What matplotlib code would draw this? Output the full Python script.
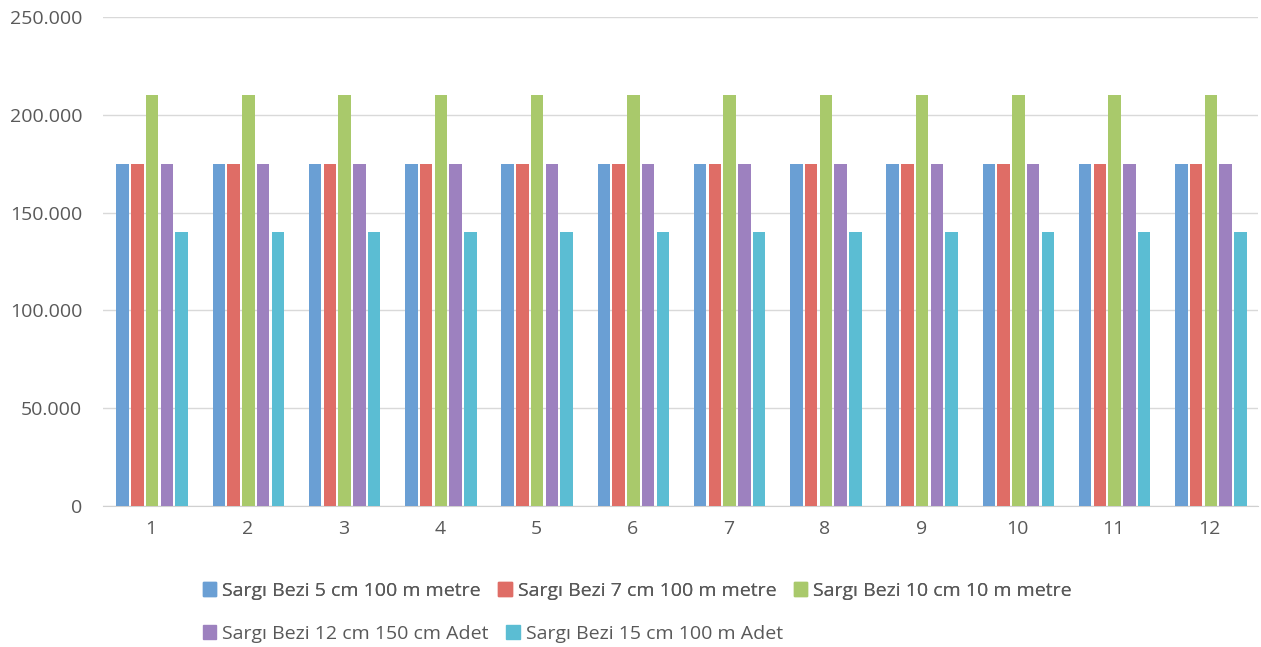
import matplotlib.pyplot as plt
import numpy as np
from matplotlib.ticker import FuncFormatter
from matplotlib.patches import Patch

plt.rcParams['font.family'] = ['Open Sans', 'DejaVu Sans']

months = ['1', '2', '3', '4', '5', '6', '7', '8', '9', '10', '11', '12']
series_names = ['Sargı Bezi 5 cm 100 m metre',
                'Sargı Bezi 7 cm 100 m metre',
                'Sargı Bezi 10 cm 10 m metre',
                'Sargı Bezi 12 cm 150 cm Adet',
                'Sargı Bezi 15 cm 100 m Adet']
bez_5cm = [175000] * 12
bez_7cm = [175000] * 12
bez_10cm = [210000] * 12
bez_12cm = [175000] * 12
bez_15cm = [140000] * 12
colors = ['#6a9fd4', '#df6d66', '#a9c96b', '#9d81bf', '#5bbdd3']

values = [bez_5cm, bez_7cm, bez_10cm, bez_12cm, bez_15cm]

fig = plt.figure(figsize=(12.61, 6.47), dpi=100)
ax = fig.add_axes([103/1261, 1-506/647, (1258-103)/1261, (506-17)/647])

x = np.arange(len(months))
step = 0.153
width = 0.13
for i, (vals, c) in enumerate(zip(values, colors)):
    ax.bar(x + (i - 2) * step + 0.01, vals, width, color=c, zorder=3)

ax.set_xlim(-0.5, len(months) - 0.5)
ax.set_ylim(0, 250000)
ax.set_yticks(np.arange(0, 250001, 50000))
ax.yaxis.set_major_formatter(FuncFormatter(lambda v, p: f'{int(v):,}'.replace(',', '.')))
ax.set_xticks(x)
ax.set_xticklabels(months)
ax.grid(axis='y', color='#d9d9d9', lw=1, zorder=0)
for s in ['top', 'right', 'left']:
    ax.spines[s].set_visible(False)
ax.spines['bottom'].set_color('#d0d0d0')
ax.tick_params(length=0, labelsize=14, colors='#595959', pad=10)
ax.tick_params(axis='y', pad=15)

handles = [Patch(color=c) for c in colors]
kw = dict(frameon=False, fontsize=14, labelcolor='#595959', handlelength=0.7,
          handleheight=0.7, handletextpad=0.3, columnspacing=0.9, borderpad=0)
leg1 = fig.legend(handles[:3], series_names[:3], ncol=3, loc='upper left',
                  bbox_to_anchor=(193/1261, 1-572/647), **kw)
fig.add_artist(leg1)
fig.legend(handles[3:], series_names[3:], ncol=2, loc='upper left',
           bbox_to_anchor=(193/1261, 1-615/647), **kw)

plt.savefig('out.png', dpi=100)
